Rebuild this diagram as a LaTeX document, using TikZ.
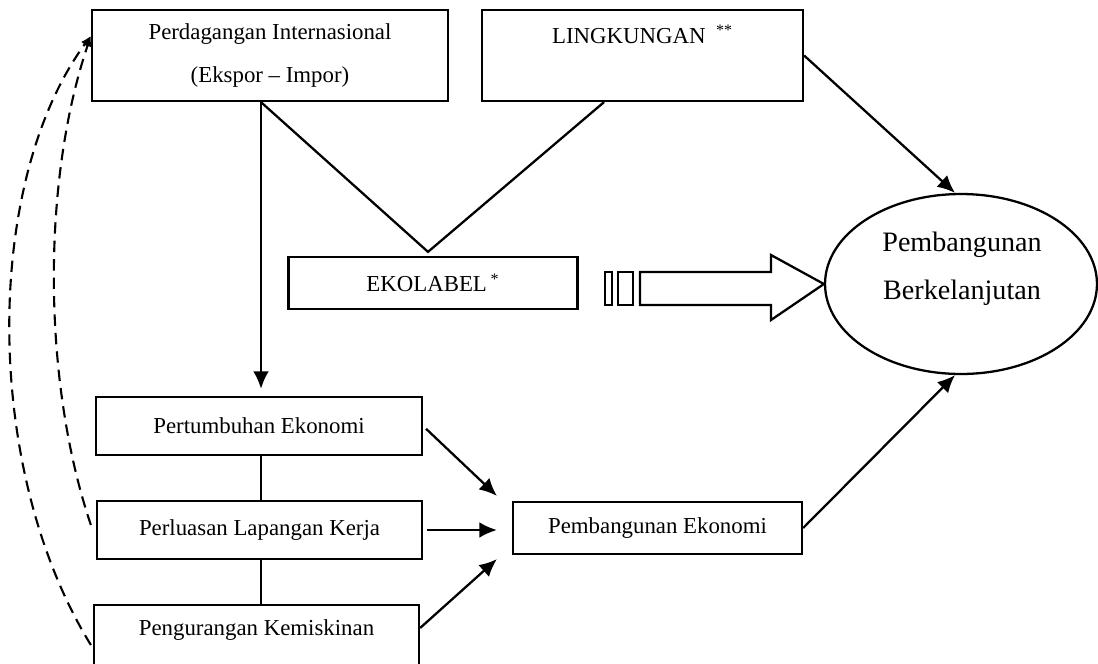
\documentclass[tikz,border=0pt]{standalone}
\usepackage{fontspec}
\setmainfont{Liberation Serif}
\usetikzlibrary{arrows.meta,shapes.geometric}

\tikzset{
  box/.style={draw,line width=1.3pt,inner sep=0pt,align=center,font=\fontsize{13}{15.6}\selectfont},
  goal/.style={draw,ellipse,line width=1.3pt,inner sep=0pt},
  flow/.style={-{Latex[length=10pt,width=9pt]},line width=1.3pt},
  link/.style={line width=1.3pt},
  back/.style={-{Latex[length=6pt,width=5pt]},line width=1.2pt,dash pattern=on 6.5pt off 4pt},
}

\begin{document}
\begin{tikzpicture}[x=0.02cm,y=-0.02cm]
  \useasboundingbox (0,0) rectangle (1098,663);
  \clip (0,0) rectangle (1098,663);
  % top row
  \node[box,minimum width=7.12cm,minimum height=1.82cm] (pi) at (270,55.5)
    {Perdagangan Internasional\\[9pt](Ekspor – Impor)};
  \node[box,minimum width=6.42cm,text height=0.66cm,text depth=1.16cm] (lk) at (642.5,55.5)
    {LINGKUNGAN\hspace{6pt}\textsuperscript{**}};
  \node[box,minimum width=5.78cm,minimum height=1.04cm] (eko) at (433,283)
    {EKOLABEL\,\textsuperscript{*}};
  % goal
  \node[goal,minimum width=5.44cm,minimum height=3.6cm] (pb) at (961,284) {};
  \node[align=center,font=\fontsize{16}{19.2}\selectfont] (pbtext) at (962,269)
    {Pembangunan\\[8pt]Berkelanjutan};
  % left column
  \node[box,minimum width=6.52cm,minimum height=1.16cm] (pe) at (259,426) {Pertumbuhan Ekonomi};
  \node[box,minimum width=6.5cm,minimum height=1.16cm] (pl) at (259.5,530) {Perluasan Lapangan Kerja};
  \node[box,minimum width=6.5cm,text height=0.6cm,text depth=1.12cm,anchor=north] (pk) at (256.5,604)
    {Pengurangan Kemiskinan};
  \node[box,minimum width=5.78cm,minimum height=1.04cm] (pek) at (657.5,528) {Pembangunan Ekonomi};

  % connectors
  \coordinate (pstart) at ([xshift=-0.18cm]pi.south);
  \draw[flow,shorten >=0.14cm] (pstart) -- (pstart |- pe.north);
  \draw[link] (pstart) -- ([xshift=-0.1cm,yshift=0.08cm]eko.north) -- ([xshift=-0.77cm]lk.south);
  \draw[flow] (lk.east) -- ([xshift=-0.12cm]pb.north);
  \draw[flow] (pek.east) -- ([xshift=-0.12cm]pb.south);
  \draw[flow,shorten <=0.08cm] (pe.east) -- ([xshift=-0.3cm,yshift=0.1cm]pek.north west);
  \draw[flow,shorten <=0.08cm,shorten >=0.3cm] (pl.east) -- (pl.east -| pek.west);
  \draw[flow] ([yshift=-0.48cm]pk.north east) -- ([xshift=-0.3cm,yshift=-0.08cm]pek.south west);
  \draw[link] (pe.south -| pstart) -- (pl.north -| pstart);
  \draw[link] (pl.south -| pstart) -- (pk.north -| pstart);

  % block arrow into the goal
  \draw[line width=1.3pt] (605,272) rectangle (612,305);
  \draw[line width=1.3pt] (618,272) rectangle (633,305);
  \draw[line width=1.3pt] (640,272) -- (771,272) -- (771,255) -- (pb.west)
    -- (771,320) -- (771,305) -- (640,305) -- cycle;

  % feedback to trade
  \coordinate (dtip) at ([yshift=-0.54cm]pi.north west);
  \draw[back] ([xshift=-0.1cm,yshift=0.1cm]pl.west) .. controls (42,380) and (42,180) .. (dtip);
  \draw[back] ([xshift=-0.04cm,yshift=-0.82cm]pk.north west) .. controls (-17,470) and (-17,183) .. (dtip);
\end{tikzpicture}
\end{document}
